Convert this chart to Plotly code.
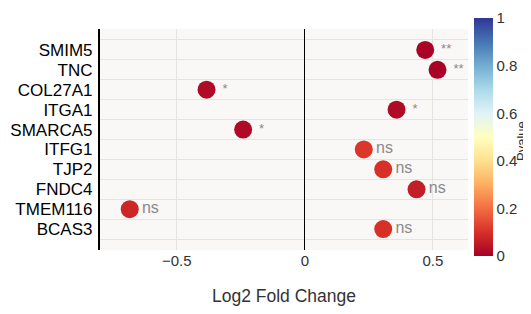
import plotly.graph_objects as go

genes = ["SMIM5", "TNC", "COL27A1", "ITGA1", "SMARCA5", "ITFG1", "TJP2", "FNDC4", "TMEM116", "BCAS3"]
log2fc = [0.47, 0.518, -0.384, 0.358, -0.241, 0.23, 0.306, 0.436, -0.684, 0.306]
pvalues = [0.008, 0.006, 0.02, 0.02, 0.02, 0.11, 0.1, 0.06, 0.08, 0.1]
signif = ["**", "**", "*", "*", "*", "ns", "ns", "ns", "ns", "ns"]
xticks = [-0.5, 0, 0.5]
xticklabels = ["\u22120.5", "0", "0.5"]
cbar_ticks = [0, 0.2, 0.4, 0.6, 0.8, 1]
cbar_labels = ["0", "0.2", "0.4", "0.6", "0.8", "1"]
cbar_title = "Pvalue"

ypos = list(range(len(genes)))
text_sizes = [16 if s == "ns" else 13 for s in signif]

fig = go.Figure()
fig.add_trace(go.Scatter(
    x=log2fc, y=ypos, mode="markers+text",
    text=[" " + s if s != "ns" else s for s in signif],
    textposition="middle right",
    textfont=dict(color="#8a8a8a", size=text_sizes, family="Arial, Liberation Sans"),
    marker=dict(size=18, color=pvalues, colorscale="RdYlBu", cmin=0, cmax=1,
                line=dict(width=0),
                colorbar=dict(
                    tickvals=cbar_ticks, ticktext=cbar_labels,
                    tickfont=dict(size=15, color="#333"),
                    thickness=19, lenmode="pixels", len=238,
                    x=1.016, xanchor="left", xpad=0,
                    y=0.511, yanchor="middle", ypad=0,
                    outlinewidth=0, ticks="", ticklen=0,
                )),
    showlegend=False, cliponaxis=False,
))

fig.add_annotation(
    text=cbar_title, xref="paper", yref="paper", x=1.145, y=0.495,
    textangle=-90, showarrow=False, font=dict(size=13, color="#333"),
    xanchor="center", yanchor="middle",
)

fig.update_layout(
    width=523, height=298,
    margin=dict(l=92, r=63, t=21, b=56, autoexpand=False),
    paper_bgcolor="white", plot_bgcolor="#faf7f7",
    font=dict(family="Arial, Liberation Sans", color="#222"),
    xaxis=dict(
        range=[-0.80, 0.637], tickvals=xticks, ticktext=xticklabels,
        tickfont=dict(size=15, color="#333"),
        showgrid=True, gridcolor="#e6e3e3", gridwidth=1,
        zeroline=True, zerolinecolor="black", zerolinewidth=1.3,
        showline=False, automargin=False,
        title=dict(text="Log2 Fold Change", font=dict(size=17.5, color="#333"), standoff=22),
    ),
    yaxis=dict(
        range=[10.05, -1.05], tickvals=ypos, ticktext=genes,
        tickfont=dict(size=17, color="black"),
        showgrid=False, zeroline=False, automargin=False,
        showline=True, linecolor="black", linewidth=2.2,
        minor=dict(tick0=-0.5, dtick=1, showgrid=True, gridcolor="#e6e3e3", gridwidth=1),
        ticks="", ticklen=0, ticklabelstandoff=2,
    ),
)

fig.write_html("out.html")
